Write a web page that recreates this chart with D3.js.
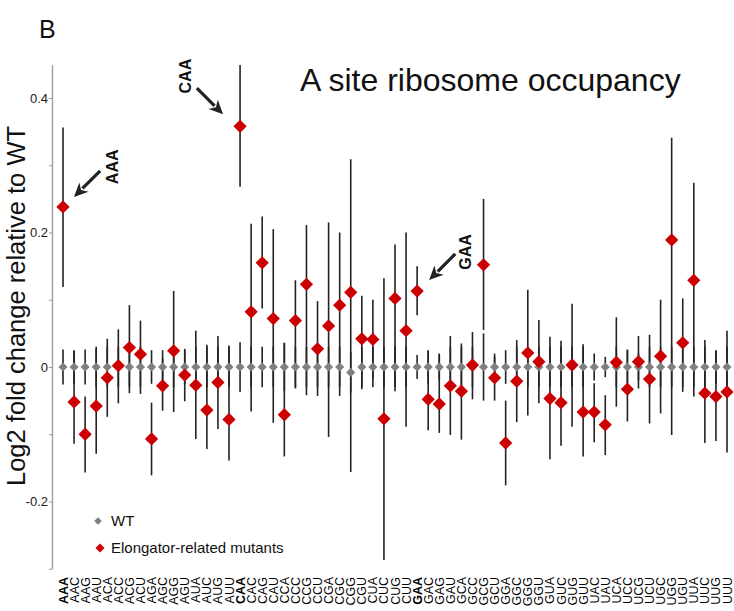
<!DOCTYPE html>
<html>
<head>
<meta charset="utf-8">
<script src="https://cdn.jsdelivr.net/npm/d3@7"></script>
<style>
  body { margin: 0; background: #fff; }
  text { font-family: "Liberation Sans", Arial, sans-serif; }
</style>
</head>
<body>
<div id="chart"></div>
<script>
// codons, sense only (no stop codons)
const codons = ['AAA','AAC','AAG','AAU','ACA','ACC','ACG','ACU','AGA','AGC','AGG','AGU','AUA','AUC','AUG','AUU',
  'CAA','CAC','CAG','CAU','CCA','CCC','CCG','CCU','CGA','CGC','CGG','CGU','CUA','CUC','CUG','CUU',
  'GAA','GAC','GAG','GAU','GCA','GCC','GCG','GCU','GGA','GGC','GGG','GGU','GUA','GUC','GUG','GUU',
  'UAC','UAU','UCA','UCC','UCG','UCU','UGC','UGG','UGU','UUA','UUC','UUG','UUU'];

// Elongator-related mutants: mean, low and high end of the bar
const mutMean = [0.238,-0.052,-0.100,-0.058,-0.016,0.002,0.029,0.019,-0.107,-0.028,0.024,-0.012,-0.027,-0.064,-0.023,-0.078,
  0.358,0.082,0.155,0.072,-0.071,0.069,0.123,0.027,0.061,0.092,0.111,0.042,0.041,-0.077,0.102,0.054,
  0.113,-0.048,-0.055,-0.028,-0.036,0.003,0.152,-0.016,-0.113,-0.021,0.021,0.008,-0.047,-0.053,0.003,-0.067,
  -0.067,-0.086,0.007,-0.033,0.008,-0.018,0.016,0.189,0.036,0.129,-0.039,-0.044,-0.037];
const mutLow = [0.119,-0.114,-0.157,-0.129,-0.074,-0.054,-0.039,-0.040,-0.161,-0.065,-0.067,-0.051,-0.107,-0.122,-0.092,-0.139,
  0.268,-0.066,0.087,-0.083,-0.133,-0.032,-0.042,-0.043,-0.104,-0.043,-0.156,-0.033,-0.018,-0.287,-0.036,-0.089,
  0.077,-0.094,-0.098,-0.101,-0.108,-0.048,0.055,-0.050,-0.176,-0.082,-0.072,-0.054,-0.137,-0.117,-0.089,-0.133,
  -0.112,-0.131,-0.059,-0.081,-0.032,-0.084,-0.069,-0.101,-0.037,-0.044,-0.113,-0.110,-0.127];
const mutHigh = [0.356,0.024,-0.044,0.027,0.042,0.056,0.092,0.069,-0.053,0.013,0.113,0.027,0.054,0.033,0.046,0.032,
  0.449,0.213,0.224,0.205,0.036,0.129,0.211,0.098,0.215,0.200,0.309,0.106,0.100,0.132,0.182,0.200,
  0.150,0.024,0.019,0.046,0.035,0.052,0.250,0.015,-0.050,0.040,0.115,0.070,0.045,0.039,0.094,0.034,
  -0.024,-0.042,0.074,0.026,0.046,0.048,0.100,0.341,0.102,0.274,0.040,0.024,0.054];

// WT: mean and half width of the bar
const wtMean = codons.map(c => c === 'CGG' ? -0.008 : 0);
const wtErr = [0.026,0.025,0.026,0.030,0.030,0.030,0.030,0.030,0.025,0.025,0.030,0.025,0.030,0.030,0.030,0.030,
  0.037,0.030,0.030,0.030,0.036,0.030,0.030,0.030,0.030,0.030,0.030,0.030,0.030,0.030,0.030,0.030,
  0.018,0.025,0.020,0.030,0.030,0.030,0.050,0.020,0.025,0.030,0.030,0.030,0.030,0.030,0.030,0.030,
  0.020,0.015,0.030,0.025,0.020,0.030,0.030,0.030,0.030,0.030,0.030,0.025,0.030];

const yTicks = [-0.3,-0.2,-0.1,0,0.1,0.2,0.3,0.4];
const yLabelled = [-0.2,0,0.2,0.4];
const boldCodons = ['AAA','CAA','GAA'];

// arrows: codon, offset of the tip from the point, direction of the shaft
const arrows = [
  { codon: 'AAA', tip: [11, -10], dir: [-1, 1], text: [12, -4] },
  { codon: 'CAA', tip: [-17, -12], dir: [1, 1], text: [-12, -12] },
  { codon: 'GAA', tip: [12, -11], dir: [-1, 1], text: [10, -2] }
];

const width = 734, height = 611;

const svg = d3.select('#chart').append('svg')
  .attr('width', width)
  .attr('height', height);

const x = d3.scalePoint().domain(codons).range([63, 727]);
const y = d3.scaleLinear().domain([-0.3, 0.45]).range([568.75, 64.4]);

// y axis
const yAxis = svg.append('g')
  .attr('transform', 'translate(52,0)')
  .call(d3.axisLeft(y).tickValues(yTicks).tickSize(3).tickSizeOuter(0).tickPadding(1)
    .tickFormat(d => yLabelled.some(v => Math.abs(v - d) < 1e-9) ? String(+d.toFixed(1)) : ''));
yAxis.select('.domain').attr('stroke', '#9a9a9a').attr('stroke-width', 1.3);
yAxis.selectAll('.tick line').attr('stroke', '#9a9a9a');
yAxis.selectAll('.tick text').attr('fill', '#222').style('font-size', '13px')
  .style('font-family', '"Liberation Sans", Arial, sans-serif');

const rows = codons.map((c, i) => ({
  codon: c, m: mutMean[i], lo: mutLow[i], hi: mutHigh[i], w: wtMean[i], we: wtErr[i]
}));

// error bars
svg.append('g').selectAll('line.wt')
  .data(rows).join('line')
  .attr('x1', d => x(d.codon)).attr('x2', d => x(d.codon))
  .attr('y1', d => y(d.w - d.we)).attr('y2', d => y(d.w + d.we))
  .attr('stroke', '#222').attr('stroke-width', 1.6);

svg.append('g').selectAll('line.mut')
  .data(rows).join('line')
  .attr('x1', d => x(d.codon)).attr('x2', d => x(d.codon))
  .attr('y1', d => y(d.lo)).attr('y2', d => y(d.hi))
  .attr('stroke', '#222').attr('stroke-width', 1.6);

const diamond = s => d3.symbol().type(d3.symbolSquare).size(s);

svg.append('g').selectAll('path')
  .data(rows).join('path')
  .attr('d', diamond(42))
  .attr('transform', d => `translate(${x(d.codon)},${y(d.w)}) rotate(45)`)
  .attr('fill', '#808080');

svg.append('g').selectAll('path')
  .data(rows).join('path')
  .attr('d', diamond(88))
  .attr('transform', d => `translate(${x(d.codon)},${y(d.m)}) rotate(45)`)
  .attr('fill', '#cc0000');

// x labels
svg.append('g').selectAll('text')
  .data(codons).join('text')
  .attr('transform', d => `translate(${x(d)},577) rotate(-90)`)
  .attr('dy', '0.36em')
  .attr('text-anchor', 'end')
  .style('font-size', '12.5px')
  .style('font-weight', d => boldCodons.includes(d) ? 'bold' : 'normal')
  .attr('fill', '#000')
  .text(d => d);

// arrows
const ag = svg.append('g');
arrows.forEach(a => {
  const i = codons.indexOf(a.codon);
  const px = x(a.codon), py = y(mutMean[i]);
  const tx = px + a.tip[0], ty = py + a.tip[1];
  const len = Math.hypot(a.dir[0], a.dir[1]);
  const ux = a.dir[0] / len, uy = a.dir[1] / len;
  const L = 37, head = 14, hw = 6.5;
  const sx = tx - ux * L, sy = ty - uy * L;
  const bx = tx - ux * head, by = ty - uy * head;
  ag.append('line')
    .attr('x1', sx).attr('y1', sy).attr('x2', bx + ux * 2).attr('y2', by + uy * 2)
    .attr('stroke', '#222').attr('stroke-width', 3.2);
  ag.append('path')
    .attr('d', `M${tx},${ty}L${bx - uy * hw},${by + ux * hw}L${bx + ux * 4},${by + uy * 4}L${bx + uy * hw},${by - ux * hw}Z`)
    .attr('fill', '#222');
  ag.append('text')
    .attr('transform', `translate(${sx + a.text[0]},${sy + a.text[1]}) rotate(-90)`)
    .attr('dy', '0.36em')
    .attr('text-anchor', 'middle')
    .style('font-size', '16px').style('font-weight', 'bold')
    .attr('fill', '#111')
    .text(a.codon);
});

// legend
const legend = svg.append('g');
legend.append('path').attr('d', diamond(30)).attr('transform', 'translate(98,521) rotate(45)').attr('fill', '#808080');
legend.append('text').attr('x', 111).attr('y', 526).style('font-size', '15px').attr('fill', '#111').text('WT');
legend.append('path').attr('d', diamond(40)).attr('transform', 'translate(100,548) rotate(45)').attr('fill', '#cc0000');
legend.append('text').attr('x', 111).attr('y', 553).style('font-size', '15px').attr('fill', '#111').text('Elongator-related mutants');

// titles
svg.append('text').attr('x', 39).attr('y', 38).style('font-size', '25px').attr('fill', '#111').text('B');
svg.append('text').attr('x', 300).attr('y', 91).style('font-size', '32px').attr('fill', '#111').text('A site ribosome occupancy');
svg.append('text')
  .attr('transform', 'translate(25,306) rotate(-90)')
  .attr('text-anchor', 'middle')
  .style('font-size', '25.5px').attr('fill', '#111')
  .text('Log2 fold change relative to WT');
</script>
</body>
</html>
